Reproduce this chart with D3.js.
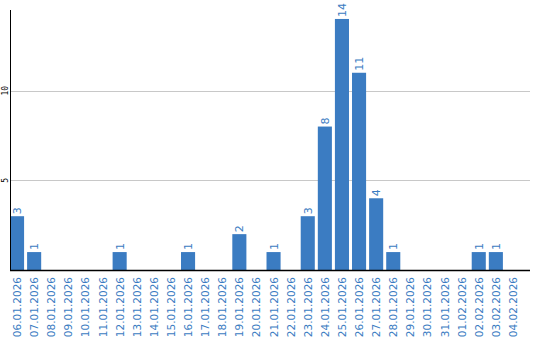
<!DOCTYPE html>
<html>
<head>
<meta charset="utf-8">
<script src="https://cdn.jsdelivr.net/npm/d3@7"></script>
<style>
body { margin: 0; background: #fff; }
</style>
</head>
<body>
<div id="chart"></div>
<script>
// data
var days = ["06.01.2026","07.01.2026","08.01.2026","09.01.2026","10.01.2026","11.01.2026","12.01.2026","13.01.2026","14.01.2026","15.01.2026",
  "16.01.2026","17.01.2026","18.01.2026","19.01.2026","20.01.2026","21.01.2026","22.01.2026","23.01.2026","24.01.2026","25.01.2026",
  "26.01.2026","27.01.2026","28.01.2026","29.01.2026","30.01.2026","31.01.2026","01.02.2026","02.02.2026","03.02.2026","04.02.2026"];
var counts = [3,1,0,0,0,0,1,0,0,0, 1,0,0,2,0,1,0,3,8,14, 11,4,1,0,0,0,0,1,1,0];
var yTicks = [5, 10];

var margin = {top: 10, right: 10, bottom: 70, left: 10},
  width = 540 - margin.left - margin.right,
  height = 340 - margin.top - margin.bottom;

var blue = "#3b7cc2";

var data = days.map(function(d, i) { return {day: d, n: counts[i]}; });

var svg = d3.select("#chart")
  .append("svg")
  .attr("width", 540)
  .attr("height", 340)
  .append("g")
  .attr("transform", "translate(" + margin.left + "," + margin.top + ")");

var x = d3.scaleBand()
  .domain(days)
  .range([0, days.length * 17])
  .paddingInner(3 / 17)
  .paddingOuter(0)
  .align(0);

var y = d3.scaleLinear()
  .domain([0, 14.5])
  .range([height, 0]);

// gridlines
svg.selectAll("line.grid")
  .data(yTicks)
  .enter().append("line")
  .attr("class", "grid")
  .attr("x1", 0)
  .attr("x2", width)
  .attr("y1", function(d) { return Math.round(y(d)) + 0.5; })
  .attr("y2", function(d) { return Math.round(y(d)) + 0.5; })
  .attr("stroke", "#c8c8c8")
  .attr("stroke-width", 1);

// y tick labels (rotated)
svg.selectAll("text.ytick")
  .data(yTicks)
  .enter().append("text")
  .attr("class", "ytick")
  .attr("transform", function(d) { return "translate(-2," + y(d) + ") rotate(-90)"; })
  .attr("text-anchor", "middle")
  .style("font-family", "DejaVu Sans Mono, monospace")
  .style("font-size", "8px")
  .style("fill", "#000")
  .text(function(d) { return d; });

// bars
svg.selectAll("rect.bar")
  .data(data)
  .enter().append("rect")
  .attr("class", "bar")
  .attr("fill", blue)
  .attr("x", function(d) { return x(d.day); })
  .attr("width", x.bandwidth())
  .attr("y", function(d) { return y(d.n); })
  .attr("height", function(d) { return height - y(d.n); });

// value labels
svg.selectAll("text.val")
  .data(data.filter(function(d) { return d.n > 0; }))
  .enter().append("text")
  .attr("class", "val")
  .attr("transform", function(d) {
    return "translate(" + (x(d.day) + x.bandwidth() / 2 + 4) + "," + (y(d.n) - 2) + ") rotate(-90)";
  })
  .attr("text-anchor", "start")
  .style("font-family", "DejaVu Sans, sans-serif")
  .style("font-size", "11px")
  .style("fill", blue)
  .text(function(d) { return d.n; });

// axes lines
svg.append("line")
  .attr("x1", 0.5).attr("x2", 0.5)
  .attr("y1", 0).attr("y2", height)
  .attr("stroke", "#000").attr("stroke-width", 1);

svg.append("line")
  .attr("x1", 0).attr("x2", width)
  .attr("y1", height + 0.5).attr("y2", height + 0.5)
  .attr("stroke", "#000").attr("stroke-width", 1.5);

// x labels
var xAxis = svg.append("g")
  .attr("transform", "translate(0," + height + ")")
  .call(d3.axisBottom(x).tickSize(0).tickPadding(0));
xAxis.select(".domain").remove();
xAxis.selectAll("text")
  .attr("transform", "translate(4,7) rotate(-90)")
  .attr("x", 0).attr("y", 0).attr("dy", 0)
  .attr("text-anchor", "end")
  .style("font-family", "DejaVu Sans, sans-serif")
  .style("font-size", "10.5px")
  .style("fill", blue);
</script>
</body>
</html>
